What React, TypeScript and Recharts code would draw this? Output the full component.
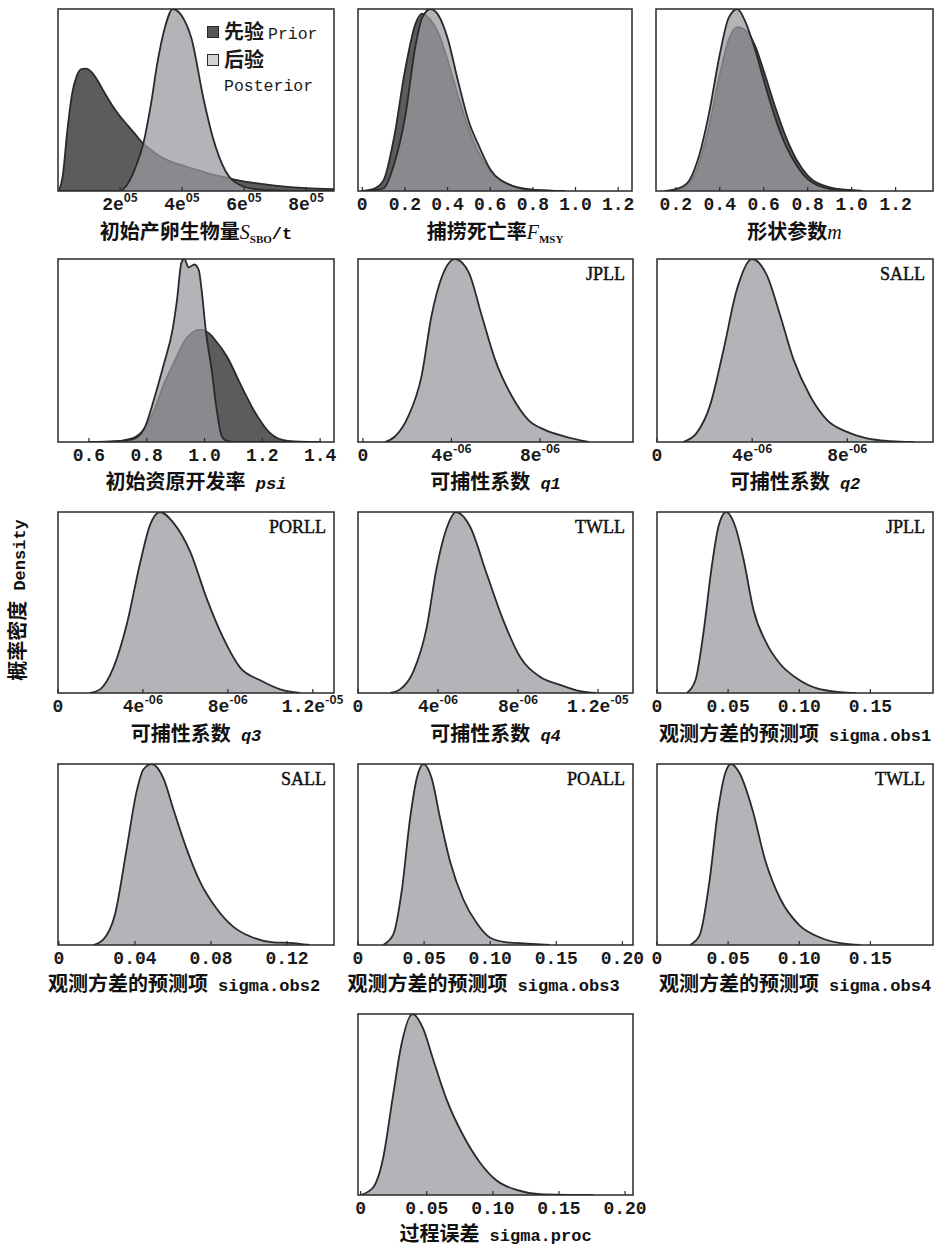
import React from 'react';
import { AreaChart, Area, XAxis, YAxis, ReferenceArea, Legend } from 'recharts';

// ---------------- data ----------------
// Panel 1: initial spawning biomass S_SBO (t)
const ssboX = [3000, 15000, 30000, 45000, 60000, 75000, 90000, 110000, 130000, 150000, 175000, 200000, 225000, 250000, 275000, 300000, 320000, 345000, 370000, 400000, 430000, 470000, 500000, 540000, 590000, 630000, 700000, 800000, 890000];
const ssboPrior = [0, 0.08, 0.33, 0.53, 0.63, 0.67, 0.672, 0.65, 0.6, 0.54, 0.47, 0.41, 0.36, 0.31, 0.26, 0.225, 0.2, 0.175, 0.157, 0.142, 0.125, 0.105, 0.09, 0.075, 0.055, 0.045, 0.03, 0.016, 0.01];
const ssboPost = [0, 0, 0, 0, 0, 0, 0, 0, 0, 0, 0, 0, 0.04, 0.13, 0.26, 0.48, 0.7, 0.9, 1.0, 0.96, 0.84, 0.5, 0.29, 0.11, 0.03, 0.012, 0.003, 0, 0];
const ssboTicks = [200000, 400000, 600000, 800000];
const ssboTickLabels = ['2e05', '4e05', '6e05', '8e05'];

// Panel 2: F_MSY
const fmsyX = [0, 0.05, 0.1, 0.15, 0.2, 0.25, 0.28, 0.32, 0.36, 0.4, 0.45, 0.5, 0.55, 0.6, 0.7, 0.8, 0.95];
const fmsyPrior = [0, 0.01, 0.06, 0.3, 0.66, 0.92, 0.975, 0.94, 0.86, 0.72, 0.52, 0.34, 0.2, 0.11, 0.03, 0.008, 0];
const fmsyPost = [0, 0.003, 0.015, 0.15, 0.4, 0.8, 0.95, 1.0, 0.96, 0.84, 0.6, 0.38, 0.24, 0.12, 0.03, 0.005, 0];
const fmsyTicks = [0, 0.2, 0.4, 0.6, 0.8, 1.0, 1.2];
const fmsyTickLabels = ['0', '0.2', '0.4', '0.6', '0.8', '1.0', '1.2'];

// Panel 3: shape parameter m
const mX = [0.15, 0.2, 0.25, 0.3, 0.35, 0.4, 0.44, 0.48, 0.52, 0.56, 0.6, 0.65, 0.7, 0.75, 0.8, 0.9, 1.0, 1.05];
const mPrior = [0, 0.005, 0.03, 0.13, 0.35, 0.64, 0.83, 0.9, 0.88, 0.8, 0.66, 0.47, 0.3, 0.17, 0.085, 0.02, 0.004, 0];
const mPost = [0, 0.01, 0.04, 0.17, 0.42, 0.75, 0.95, 1.0, 0.92, 0.78, 0.61, 0.41, 0.25, 0.14, 0.065, 0.012, 0.003, 0];
const mTicks = [0.2, 0.4, 0.6, 0.8, 1.0, 1.2];
const mTickLabels = ['0.2', '0.4', '0.6', '0.8', '1.0', '1.2'];

// Panel 4: psi
const psiX = [0.6, 0.68, 0.75, 0.79, 0.83, 0.86, 0.89, 0.905, 0.92, 0.93, 0.945, 0.965, 0.98, 0.99, 1.005, 1.025, 1.04, 1.06, 1.08, 1.12, 1.17, 1.22, 1.27, 1.33, 1.4];
const psiPrior = [0, 0.002, 0.02, 0.07, 0.19, 0.32, 0.42, 0.47, 0.52, 0.55, 0.58, 0.605, 0.612, 0.612, 0.605, 0.58, 0.55, 0.51, 0.46, 0.33, 0.175, 0.06, 0.012, 0.002, 0];
const psiPost = [0, 0.003, 0.015, 0.07, 0.26, 0.43, 0.62, 0.78, 0.98, 1.0, 0.955, 0.97, 0.94, 0.83, 0.6, 0.39, 0.2, 0.03, 0.005, 0, 0, 0, 0, 0, 0];
const psiTicks = [0.6, 0.8, 1.0, 1.2, 1.4];
const psiTickLabels = ['0.6', '0.8', '1.0', '1.2', '1.4'];

// Panels 5-8: catchability q1..q4
const q1X = [1.0e-6, 1.45e-6, 2.05e-6, 2.65e-6, 3.1e-6, 3.56e-6, 4.16e-6, 4.77e-6, 5.37e-6, 5.97e-6, 6.73e-6, 7.48e-6, 8.24e-6, 9.14e-6, 10.2e-6];
const q1Y = [0, 0.03, 0.14, 0.36, 0.69, 0.9, 1.0, 0.93, 0.69, 0.45, 0.25, 0.12, 0.065, 0.03, 0];
const q2X = [1.1e-6, 1.67e-6, 2.23e-6, 2.79e-6, 3.35e-6, 3.99e-6, 4.62e-6, 5.18e-6, 5.74e-6, 6.44e-6, 7.15e-6, 7.99e-6, 8.83e-6, 9.81e-6, 10.8e-6];
const q2Y = [0, 0.05, 0.2, 0.5, 0.83, 1.0, 0.91, 0.69, 0.45, 0.25, 0.12, 0.055, 0.02, 0.005, 0];
const q3X = [1.51e-6, 1.98e-6, 2.61e-6, 3.24e-6, 3.87e-6, 4.34e-6, 4.81e-6, 5.44e-6, 6.23e-6, 7.01e-6, 7.8e-6, 8.58e-6, 9.53e-6, 10.47e-6, 11.4e-6];
const q3Y = [0, 0.02, 0.14, 0.38, 0.72, 0.93, 1.0, 0.94, 0.78, 0.52, 0.3, 0.14, 0.07, 0.02, 0];
const q4X = [1.6e-6, 2.1e-6, 2.77e-6, 3.43e-6, 3.93e-6, 4.43e-6, 4.9e-6, 5.6e-6, 6.43e-6, 7.27e-6, 8.1e-6, 9.1e-6, 10.1e-6, 11.1e-6, 11.9e-6];
const q4Y = [0, 0.02, 0.12, 0.36, 0.69, 0.91, 1.0, 0.92, 0.66, 0.4, 0.2, 0.09, 0.045, 0.01, 0];
const qTicksShort = [0, 4e-6, 8e-6];
const qTickLabelsShort = ['0', '4e-06', '8e-06'];
const qTicksLong = [0, 4e-6, 8e-6, 1.2e-5];
const qTickLabelsLong = ['0', '4e-06', '8e-06', '1.2e-05'];

// Panels 9-12: sigma.obs1..4
const obs1X = [0.021, 0.027, 0.0326, 0.0385, 0.0432, 0.0486, 0.055, 0.0608, 0.0678, 0.0773, 0.0866, 0.0984, 0.1125, 0.129, 0.14];
const obs1Y = [0, 0.07, 0.33, 0.7, 0.92, 1.0, 0.92, 0.74, 0.46, 0.27, 0.16, 0.08, 0.025, 0.005, 0];
const obs2X = [0.018, 0.0233, 0.0295, 0.0356, 0.0409, 0.0444, 0.0488, 0.055, 0.0602, 0.0672, 0.0742, 0.083, 0.0918, 0.1023, 0.1128, 0.1216, 0.132];
const obs2Y = [0, 0.03, 0.17, 0.53, 0.85, 0.97, 1.0, 0.92, 0.75, 0.53, 0.35, 0.2, 0.1, 0.04, 0.015, 0.012, 0];
const obs3X = [0.019, 0.0268, 0.0331, 0.0394, 0.0444, 0.0495, 0.0558, 0.0621, 0.0697, 0.0798, 0.0899, 0.1, 0.1126, 0.128, 0.145];
const obs3Y = [0, 0.06, 0.3, 0.7, 0.92, 1.0, 0.92, 0.7, 0.46, 0.25, 0.12, 0.04, 0.015, 0.008, 0];
const obs4X = [0.023, 0.03, 0.037, 0.043, 0.048, 0.052, 0.058, 0.067, 0.076, 0.087, 0.1, 0.115, 0.129, 0.143];
const obs4Y = [0, 0.055, 0.36, 0.75, 0.95, 1.0, 0.95, 0.75, 0.47, 0.25, 0.11, 0.04, 0.01, 0];
const obsTicks5 = [0, 0.05, 0.1, 0.15];
const obsTickLabels5 = ['0', '0.05', '0.10', '0.15'];
const obsTicks4 = [0, 0.04, 0.08, 0.12];
const obsTickLabels4 = ['0', '0.04', '0.08', '0.12'];
const obsTicks20 = [0, 0.05, 0.1, 0.15, 0.2];
const obsTickLabels20 = ['0', '0.05', '0.10', '0.15', '0.20'];

// Panel 13: sigma.proc
const procX = [0, 0.0093, 0.0169, 0.0245, 0.0308, 0.0392, 0.0472, 0.0548, 0.0649, 0.0775, 0.0902, 0.1028, 0.118, 0.1356, 0.176];
const procY = [0, 0.04, 0.2, 0.55, 0.83, 1.0, 0.92, 0.75, 0.53, 0.33, 0.18, 0.08, 0.028, 0.005, 0];

const seriesNames = { prior: '先验 Prior', post: '后验 Posterior' };
const yAxisTitleZh = '概率密度';
const yAxisTitleEn = ' Density';

// ---------------- style ----------------
const FONT_CJK = '"Noto Sans CJK SC", "Noto Sans", sans-serif';
const FONT_MONO = '"Liberation Mono", "DejaVu Sans Mono", monospace';
const FONT_SERIF = '"Liberation Serif", "DejaVu Serif", serif';
const INK = '#2a2a2a';
const PRIOR_FILL = '#5c5c5c';
const POST_FILL = '#999a9f';
const POST_OPACITY = 0.74;

const pair = (xs: number[], a: number[], b?: number[]) =>
  xs.map((x, i) => (b ? { x, prior: a[i], post: b[i] } : { x, post: a[i] }));

const makeTick = (ticks: number[], labels: string[]) => (props: any) => {
  const { x, y, payload } = props;
  const i = ticks.findIndex((t) => Math.abs(t - payload.value) < 1e-12);
  const lab = i >= 0 ? labels[i] : String(payload.value);
  const m = lab.match(/^(.*e)(-?\d+)$/);
  return (
    <g>
      <line x1={x} y1={y} x2={x} y2={y - 4} stroke={INK} strokeWidth={1.2} />
      <text x={x} y={y + 19} textAnchor="middle" fontFamily={FONT_MONO} fontWeight="bold" fontSize={18} fill="#1a1a1a">
        {m ? (
          <>
            <tspan>{m[1]}</tspan>
            <tspan dy={-8} fontSize={12} fontFamily={FONT_CJK}>{m[2]}</tspan>
          </>
        ) : (
          lab
        )}
      </text>
    </g>
  );
};

const renderLegend = (props: any) => {
  const items = props.payload || [];
  return (
    <div style={{ width: 130 }}>
      {items.map((it: any) => {
        const parts = String(it.value).split(' ');
        const dark = it.dataKey === 'prior';
        return (
          <div key={it.dataKey} style={{ display: 'flex', alignItems: 'flex-start', lineHeight: '24px' }}>
            <div
              style={{
                width: 10,
                height: 10,
                marginTop: 7,
                marginRight: 5,
                background: dark ? '#555' : '#d4d4d6',
                border: `1px solid ${INK}`,
                flex: 'none',
              }}
            />
            <div style={{ width: 104, color: '#1a1a1a' }}>
              <span style={{ fontFamily: FONT_CJK, fontWeight: 700, fontSize: 20 }}>{parts[0]}</span>{' '}
              <span style={{ fontFamily: FONT_MONO, fontSize: 16.5 }}>{parts.slice(1).join(' ')}</span>
            </div>
          </div>
        );
      })}
    </div>
  );
};

type Box = { left: number; top: number; w: number; h: number };
type PanelProps = {
  box: Box;
  domain: [number, number];
  ticks: number[];
  tickLabels: string[];
  data: any[];
  keys: string[];
  corner?: string;
  legend?: boolean;
  title: React.ReactNode;
  titleY: number;
  titleDx?: number;
};

function Panel({ box, domain, ticks, tickLabels, data, keys, corner, legend, title, titleY, titleDx = 0 }: PanelProps) {
  const ML = 24, MR = 24, MT = 12, AXH = 34;
  const W = box.w + ML + MR;
  const H = box.h + MT + AXH;
  return (
    <>
      <div style={{ position: 'absolute', left: box.left - ML, top: box.top - MT, width: W, height: H }}>
        <AreaChart width={W} height={H} data={data} margin={{ top: MT, right: MR, left: ML, bottom: 0 }}>
          <XAxis
            dataKey="x"
            type="number"
            domain={domain}
            allowDataOverflow
            ticks={ticks}
            interval={0}
            height={AXH}
            tickSize={0}
            tickMargin={0}
            axisLine={false}
            tickLine={false}
            tick={makeTick(ticks, tickLabels)}
          />
          <YAxis hide type="number" domain={[0, 1]} allowDataOverflow />
          {keys.map((k) => (
            <Area
              key={k}
              dataKey={k}
              name={(seriesNames as any)[k]}
              type="monotone"
              fill={k === 'prior' ? PRIOR_FILL : POST_FILL}
              fillOpacity={k === 'prior' ? 1 : POST_OPACITY}
              stroke={INK}
              strokeWidth={1.8}
              dot={false}
              activeDot={false}
              isAnimationActive={false}
            />
          ))}
          <ReferenceArea
            x1={domain[0]}
            x2={domain[1]}
            y1={0}
            y2={1}
            fill="none"
            stroke={INK}
            strokeWidth={1.5}
            ifOverflow="visible"
            label={
              corner
                ? {
                    value: corner,
                    position: 'insideTopRight',
                    offset: 8,
                    fill: '#111',
                    stroke: '#111',
                    strokeWidth: 0.45,
                    fontSize: 18,
                    fontFamily: FONT_SERIF,
                  }
                : undefined
            }
          />
          {legend && (
            <Legend
              layout="horizontal"
              verticalAlign="middle"
              align="center"
              wrapperStyle={{ position: 'absolute', left: 207 - (box.left - ML), top: 19 - (box.top - MT), width: 130 }}
              content={renderLegend}
            />
          )}
        </AreaChart>
      </div>
      <div
        style={{
          position: 'absolute',
          left: box.left + box.w / 2 + titleDx - 200,
          width: 400,
          top: titleY - 10,
          height: 20,
          lineHeight: '20px',
          textAlign: 'center',
          whiteSpace: 'nowrap',
          color: '#111',
        }}
      >
        {title}
      </div>
    </>
  );
}

const zh = (s: string) => <span style={{ fontFamily: FONT_CJK, fontWeight: 700, fontSize: 20 }}>{s}</span>;
const mono = (s: string, italic = false) => (
  <span style={{ fontFamily: FONT_MONO, fontSize: 17, fontWeight: 700, fontStyle: italic ? 'italic' : 'normal' }}>{s}</span>
);
const serifIt = (s: string, sub?: string) => (
  <>
    <span style={{ fontFamily: FONT_SERIF, fontStyle: 'italic', fontSize: 20 }}>{s}</span>
    {sub && <sub style={{ fontFamily: FONT_SERIF, fontWeight: 700, fontSize: 11 }}>{sub}</sub>}
  </>
);

export default function App() {
  return (
    <div style={{ position: 'absolute', left: 0, top: 0, width: 944, height: 1251, background: '#fff', overflow: 'hidden' }}>
      <style>{'.recharts-surface{overflow:visible}'}</style>
      <div
        style={{
          position: 'absolute',
          left: 17 - 110,
          top: 600 - 13,
          width: 220,
          height: 26,
          lineHeight: '26px',
          textAlign: 'center',
          transform: 'rotate(-90deg)',
          whiteSpace: 'nowrap',
          color: '#111',
        }}
      >
        {zh(yAxisTitleZh)}
        {mono(yAxisTitleEn)}
      </div>

      <Panel box={{ left: 58, top: 9, w: 276, h: 182 }} domain={[0, 890000]} ticks={ssboTicks} tickLabels={ssboTickLabels}
        data={pair(ssboX, ssboPrior, ssboPost)} keys={['prior', 'post']} legend titleY={231}
        title={<>{zh('初始产卵生物量')}{serifIt('S', 'SBO')}{mono('/t')}</>} />
      <Panel box={{ left: 358, top: 9, w: 274, h: 182 }} domain={[-0.02, 1.265]} ticks={fmsyTicks} tickLabels={fmsyTickLabels}
        data={pair(fmsyX, fmsyPrior, fmsyPost)} keys={['prior', 'post']} titleY={231}
        title={<>{zh('捕捞死亡率')}{serifIt('F', 'MSY')}</>} />
      <Panel box={{ left: 656, top: 9, w: 277, h: 182 }} domain={[0.11, 1.37]} ticks={mTicks} tickLabels={mTickLabels}
        data={pair(mX, mPrior, mPost)} keys={['prior', 'post']} titleY={231}
        title={<>{zh('形状参数')}{serifIt('m')}</>} />

      <Panel box={{ left: 58, top: 259, w: 276, h: 183 }} domain={[0.493, 1.448]} ticks={psiTicks} tickLabels={psiTickLabels}
        data={pair(psiX, psiPrior, psiPost)} keys={['prior', 'post']} titleY={481}
        title={<>{zh('初始资原开发率')}{mono(' ')}{mono('psi', true)}</>} />
      <Panel box={{ left: 358, top: 259, w: 275, h: 183 }} domain={[-0.22e-6, 12.2e-6]} ticks={qTicksShort} tickLabels={qTickLabelsShort}
        data={pair(q1X, q1Y)} keys={['post']} corner="JPLL" titleY={481}
        title={<>{zh('可捕性系数')}{mono(' ')}{mono('q1', true)}</>} />
      <Panel box={{ left: 657, top: 259, w: 276, h: 183 }} domain={[0, 11.6e-6]} ticks={qTicksShort} tickLabels={qTickLabelsShort}
        data={pair(q2X, q2Y)} keys={['post']} corner="SALL" titleY={481}
        title={<>{zh('可捕性系数')}{mono(' ')}{mono('q2', true)}</>} />

      <Panel box={{ left: 58, top: 512, w: 276, h: 181 }} domain={[0, 13.0e-6]} ticks={qTicksLong} tickLabels={qTickLabelsLong}
        data={pair(q3X, q3Y)} keys={['post']} corner="PORLL" titleY={733}
        title={<>{zh('可捕性系数')}{mono(' ')}{mono('q3', true)}</>} />
      <Panel box={{ left: 358, top: 512, w: 275, h: 181 }} domain={[0, 13.75e-6]} ticks={qTicksLong} tickLabels={qTickLabelsLong}
        data={pair(q4X, q4Y)} keys={['post']} corner="TWLL" titleY={733}
        title={<>{zh('可捕性系数')}{mono(' ')}{mono('q4', true)}</>} />
      <Panel box={{ left: 657, top: 512, w: 276, h: 181 }} domain={[0, 0.194]} ticks={obsTicks5} tickLabels={obsTickLabels5}
        data={pair(obs1X, obs1Y)} keys={['post']} corner="JPLL" titleY={733}
        title={<>{zh('观测方差的预测项')}{mono(' sigma.obs1')}</>} />

      <Panel box={{ left: 58, top: 764, w: 276, h: 181 }} domain={[-0.0005, 0.1447]} ticks={obsTicks4} tickLabels={obsTickLabels4}
        data={pair(obs2X, obs2Y)} keys={['post']} corner="SALL" titleY={983} titleDx={-12}
        title={<>{zh('观测方差的预测项')}{mono(' sigma.obs2')}</>} />
      <Panel box={{ left: 358, top: 764, w: 275, h: 181 }} domain={[0, 0.208]} ticks={obsTicks20} tickLabels={obsTickLabels20}
        data={pair(obs3X, obs3Y)} keys={['post']} corner="POALL" titleY={983} titleDx={-12}
        title={<>{zh('观测方差的预测项')}{mono(' sigma.obs3')}</>} />
      <Panel box={{ left: 657, top: 764, w: 276, h: 181 }} domain={[0, 0.194]} ticks={obsTicks5} tickLabels={obsTickLabels5}
        data={pair(obs4X, obs4Y)} keys={['post']} corner="TWLL" titleY={983}
        title={<>{zh('观测方差的预测项')}{mono(' sigma.obs4')}</>} />

      <Panel box={{ left: 358, top: 1014, w: 275, h: 181 }} domain={[-0.002, 0.206]} ticks={obsTicks20} tickLabels={obsTickLabels20}
        data={pair(procX, procY)} keys={['post']} titleY={1233}
        title={<>{zh('过程误差')}{mono(' sigma.proc')}</>} />
    </div>
  );
}
